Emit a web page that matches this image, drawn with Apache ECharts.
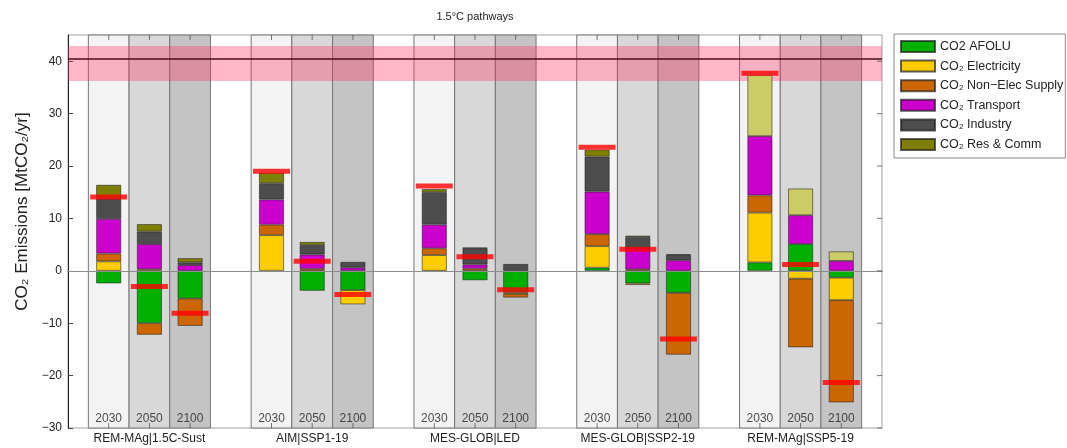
<!DOCTYPE html>
<html>
<head>
<meta charset="utf-8">
<script src="https://cdn.jsdelivr.net/npm/echarts@6/dist/echarts.min.js"></script>
<style>
  html, body { margin: 0; padding: 0; background: #fff; }
  #chart { width: 1067px; height: 448px; }
</style>
</head>
<body>
<div id="chart"></div>
<script>
// scenarios and years
var groups = ['REM-MAg|1.5C-Sust', 'AIM|SSP1-19', 'MES-GLOB|LED', 'MES-GLOB|SSP2-19', 'REM-MAg|SSP5-19'];
var years = ['2030', '2050', '2100'];
// x slot of every bar (3 bars per scenario, one empty slot between scenarios)
var xPos = [1, 2, 3, 5, 6, 7, 9, 10, 11, 13, 14, 15, 17, 18, 19];
var groupPos = [2, 6, 10, 14, 18];
var yTicks = [-30, -20, -10, 0, 10, 20, 30, 40];

// sector emissions, order: scenario x year
var afolu       = [-2.4, -10.0, -5.3,   0, -3.8, -3.7,  -0.2, -1.8, -4.1,  0.6, -2.4, -4.2,  1.6,  5.1,  -1.3];
var electricity = [ 1.8,   0.3,    0, 6.8,    0, -2.7,   3.0,    0, -0.3,  4.1, -0.3,    0,  9.5, -1.5,  -4.3];
var nonElec     = [ 1.5,  -2.2, -5.2, 2.0,  0.4,    0,   1.3,  0.4, -0.7,  2.3,  0.3, -11.8, 3.3, -13.1, -19.5];
var transport   = [ 6.6,   4.8,  1.1, 4.8,  2.7,  0.6,   4.5,  0.8,    0,  8.1,  4.1,  2.0, 11.3,  5.5,  1.9];
var industry    = [ 3.9,   2.4,  0.5, 3.1,  1.8,  1.1,   6.2,  3.1,  1.3,  6.7,  2.0,  1.0,    0,    0,    0];
var resComm     = [ 2.6,   1.4,  0.8, 2.0,  0.6,    0,   0.6,  0.1,    0,  1.3,  0.3,  0.15, 11.7, 5.1,  1.8];
// net total (red marker)
var netTotal    = [14.1,  -3.0, -8.1, 19.0, 1.8, -4.5,  16.2,  2.7, -3.6, 23.6,  4.1, -13.0, 37.7, 1.2, -21.3];

// reference band and line
var bandLow = 36.2, bandHigh = 42.9, refLine = 40.5;

var sectors = [
    { name: 'CO2 AFOLU',            data: afolu,       color: '#00b000' },
    { name: 'CO₂ Electricity',      data: electricity, color: '#ffcc00' },
    { name: 'CO₂ Non−Elec Supply',  data: nonElec,     color: '#cc6600' },
    { name: 'CO₂ Transport',        data: transport,   color: '#cc00cc' },
    { name: 'CO₂ Industry',         data: industry,    color: '#4d4d4d' },
    { name: 'CO₂ Res & Comm',       data: resComm,     color: '#808000' }
];
var yearColors = ['#f3f3f3', '#d8d8d8', '#c5c4c5'];
var font = 'Liberation Sans, Arial, sans-serif';

var groupAt = {};
groupPos.forEach(function (x, i) { groupAt[x] = groups[i]; });

var myChart = echarts.init(document.getElementById('chart'));

var series = [];

// column backgrounds + zero line
series.push({
    type: 'line', data: [], z: 0, silent: true,
    markArea: {
        silent: true,
        data: xPos.map(function (x, i) {
            return [{
                xAxis: x - 0.5,
                yAxis: -30,
                itemStyle: { color: yearColors[i % 3], borderColor: '#767676', borderWidth: 1 }
            }, { xAxis: x + 0.5, yAxis: 45 }];
        })
    },
    markLine: {
        silent: true, symbol: 'none', label: { show: false },
        lineStyle: { color: '#8c8c8c', width: 1, type: 'solid' },
        data: [{ yAxis: 0 }]
    }
});

// stacked sector bars; value first so the library stacks the y value by index
sectors.forEach(function (s) {
    series.push({
        name: s.name,
        type: 'bar',
        stack: 'total',
        z: 2,
        barWidth: 25,
        encode: { x: 1, y: 0 },
        itemStyle: { color: s.color, borderColor: 'rgba(30,30,30,0.7)', borderWidth: 0.8 },
        data: s.data.map(function (v, i) {
            var item = { value: [v === 0 ? null : v, xPos[i]] };
            if (s.name === 'CO₂ Res & Comm' && i >= 12) item.itemStyle = { color: '#cccc66' };
            return item;
        })
    });
});

// pink band + reference line over everything
series.push({
    type: 'line', data: [], z: 4, silent: true,
    markArea: {
        silent: true,
        itemStyle: { color: 'rgba(255,40,90,0.33)' },
        data: [[{ yAxis: bandLow }, { yAxis: bandHigh }]]
    },
    markLine: {
        silent: true, symbol: 'none', label: { show: false },
        lineStyle: { color: '#4a0d18', width: 1.6, type: 'solid' },
        data: [{ yAxis: refLine }]
    }
});

series.push({
    name: 'net',
    type: 'scatter',
    z: 6,
    symbol: 'rect',
    symbolSize: [37, 5],
    itemStyle: { color: '#ff0000' },
    data: netTotal.map(function (v, i) { return [xPos[i], v]; })
});

// year labels inside the bottom of each column
series.push({
    type: 'scatter', z: 7, silent: true,
    symbolSize: 0,
    label: {
        show: true, position: 'top', distance: 3, fontSize: 12, color: '#222', fontFamily: font,
        formatter: function (p) { return years[p.dataIndex % 3]; }
    },
    data: xPos.map(function (x) { return [x, -30]; })
});

// inner ticks: bottom and top of each column, right edge
series.push({
    type: 'scatter', z: 7, silent: true,
    symbol: 'rect', symbolSize: [1, 5], symbolOffset: [0, -2.5],
    itemStyle: { color: '#555' },
    data: xPos.map(function (x) { return [x, -30]; })
});
series.push({
    type: 'scatter', z: 7, silent: true,
    symbol: 'rect', symbolSize: [1, 5], symbolOffset: [0, 2.5],
    itemStyle: { color: '#555' },
    data: xPos.map(function (x) { return [x, 45]; })
});
series.push({
    type: 'scatter', z: 7, silent: true,
    symbol: 'rect', symbolSize: [5, 1], symbolOffset: [-2.5, 0],
    itemStyle: { color: '#555' },
    data: yTicks.map(function (v) { return [20, v]; })
});

var option = {
    animation: false,
    textStyle: { fontFamily: font },
    grid: { left: 68, right: 185, top: 35, bottom: 20, show: true, borderColor: '#a0a0a0', borderWidth: 1 },
    graphic: [{
        type: 'text', x: 475, y: 17,
        style: { text: '1.5°C pathways', fontFamily: 'Liberation Sans Narrow, Arial Narrow, sans-serif', fontSize: 11, fill: '#222', textAlign: 'center', textVerticalAlign: 'middle' }
    }],
    legend: {
        orient: 'vertical',
        left: 894, top: 34,
        padding: [6, 2, 7, 6],
        itemWidth: 34, itemHeight: 11, itemGap: 6.6,
        backgroundColor: '#fff',
        borderColor: '#8a8a8a', borderWidth: 1,
        icon: 'rect',
        textStyle: { fontSize: 12.5, color: '#222', fontFamily: font },
        data: sectors.map(function (s) { return s.name; })
    },
    xAxis: {
        type: 'value', min: 0, max: 20, position: 'bottom',
        splitLine: { show: false },
        axisLine: { show: true, lineStyle: { color: '#222', width: 1 } },
        axisTick: { show: false },
        axisLabel: {
            customValues: groupPos, fontSize: 12, color: '#222', margin: 5,
            formatter: function (v) { return groupAt[v] || ''; }
        }
    },
    yAxis: {
        type: 'value', min: -30, max: 45, interval: 10,
        name: 'CO₂ Emissions [MtCO₂/yr]',
        nameLocation: 'middle', nameGap: 34,
        nameTextStyle: { fontSize: 17, color: '#222', padding: [0, 0, 0, 40] },
        splitLine: { show: false },
        axisLine: { show: true, lineStyle: { color: '#222' } },
        axisTick: { show: true, inside: true, length: 5, customValues: yTicks, lineStyle: { color: '#444' } },
        axisLabel: {
            fontSize: 12, color: '#222', margin: 6, customValues: yTicks,
            formatter: function (v) { return String(v).replace('-', '−'); }
        }
    },
    series: series
};
myChart.setOption(option);
</script>
</body>
</html>
